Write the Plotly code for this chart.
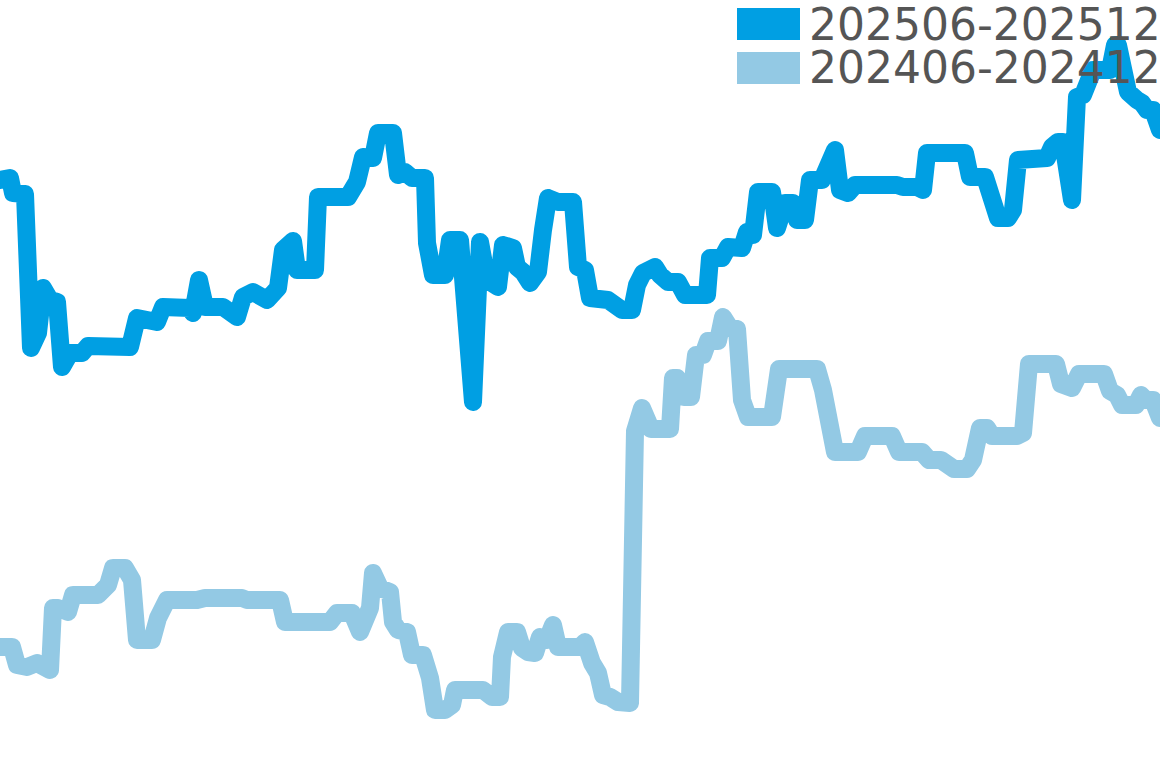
import plotly.graph_objects as go

# Day position within the half-year window (one unit = one step of the x scale)
days_2025 = [
    0.0, 1.0, 1.3, 2.5, 3.1, 3.8, 4.3, 5.0, 5.7, 6.2,
    7.0, 8.2, 8.8, 13.0, 13.7, 15.7, 16.3, 19.0, 19.3, 19.9,
    20.5, 22.3, 23.7, 24.3, 25.3, 26.7, 27.8, 28.3, 29.3, 29.7,
    31.5, 31.8, 34.8, 35.7, 36.3, 37.3, 37.8, 39.3, 39.8, 40.5,
    41.2, 42.5, 42.7, 43.3, 44.5, 45.0, 46.0, 47.3, 48.0, 48.7,
    49.8, 50.3, 51.3, 51.7, 52.3, 53.0, 53.8, 54.3, 54.8, 55.8,
    57.3, 57.8, 58.5, 59.0, 60.8, 62.2, 63.2, 63.7, 64.3, 65.5,
    66.0, 66.8, 67.8, 68.5, 70.7, 71.0, 72.2, 72.8, 74.2, 74.7,
    75.3, 75.8, 77.2, 77.7, 78.5, 79.3, 79.7, 80.5, 81.0, 82.2,
    83.5, 84.0, 84.8, 85.5, 89.7, 90.3, 91.7, 92.3, 92.7, 96.5,
    97.0, 98.5, 99.8, 100.8, 101.3, 101.8, 104.7, 105.2, 105.8, 106.3,
    107.2, 107.7, 108.3, 109.3, 111.0, 111.5, 111.8, 112.8, 113.7, 114.2,
    114.7, 115.3, 116.0,
]
values_2025 = [
    58.8, 59.0, 57.5, 57.4, 42.0, 43.5, 48.0, 46.8, 46.6, 40.1,
    41.5, 41.5, 42.2, 42.1, 45.0, 44.6, 46.1, 46.0, 45.5, 48.8,
    46.1, 46.1, 45.1, 47.1, 47.6, 46.8, 48.0, 51.8, 52.7, 49.8,
    49.8, 57.1, 57.1, 58.6, 61.1, 61.0, 63.5, 63.5, 59.3, 59.6,
    59.0, 59.0, 52.5, 49.3, 49.3, 52.8, 52.8, 36.6, 52.6, 48.8,
    48.1, 52.3, 52.0, 50.1, 49.6, 48.5, 49.6, 53.8, 57.0, 56.6,
    56.6, 50.1, 49.8, 47.0, 46.8, 45.8, 45.8, 48.3, 49.5, 50.1,
    49.3, 48.6, 48.6, 47.3, 47.3, 51.0, 51.0, 52.1, 52.0, 53.6,
    53.3, 57.6, 57.6, 54.0, 56.5, 56.5, 54.8, 54.8, 58.8, 58.8,
    61.8, 57.8, 57.5, 58.3, 58.3, 58.1, 58.1, 57.8, 61.5, 61.5,
    59.1, 59.1, 55.0, 55.0, 55.8, 60.8, 61.0, 62.1, 62.6, 62.6,
    56.8, 67.1, 67.3, 69.8, 69.8, 72.3, 72.3, 67.6, 66.8, 66.5,
    65.8, 65.8, 63.8,
]

days_2024 = [
    0.0, 1.2, 1.7, 2.7, 3.7, 5.0, 5.3, 5.8, 6.8, 7.3,
    9.8, 10.8, 11.3, 12.5, 13.2, 13.7, 15.2, 15.8, 16.7, 19.7,
    20.5, 24.2, 24.7, 28.0, 28.5, 33.0, 33.7, 35.2, 36.0, 37.0,
    37.3, 38.0, 39.0, 39.3, 39.8, 40.7, 41.2, 42.3, 43.0, 43.5,
    44.5, 45.2, 45.5, 48.3, 49.2, 50.0, 50.2, 50.8, 51.7, 52.2,
    52.8, 53.5, 54.0, 54.7, 55.3, 55.8, 58.0, 58.5, 59.2, 59.8,
    60.3, 61.0, 61.8, 63.0, 63.5, 64.2, 65.1, 67.0, 67.3, 67.7,
    68.4, 69.1, 69.6, 70.3, 70.8, 71.8, 72.3, 73.0, 73.7, 74.2,
    74.8, 77.2, 77.9, 81.7, 82.3, 83.5, 85.8, 86.5, 89.2, 89.9,
    92.2, 92.9, 94.1, 95.4, 96.7, 97.3, 98.0, 98.7, 99.2, 101.7,
    102.3, 102.9, 105.6, 106.1, 107.2, 107.9, 110.4, 111.0, 111.7, 112.2,
    113.6, 114.1, 114.6, 115.3, 116.0,
]
values_2024 = [
    12.1, 12.1, 10.3, 10.1, 10.5, 9.8, 16.0, 16.0, 15.6, 17.3,
    17.3, 18.3, 20.0, 20.0, 18.8, 12.8, 12.8, 15.0, 16.8, 16.8,
    17.0, 17.0, 16.8, 16.8, 14.6, 14.6, 15.5, 15.5, 13.6, 16.0,
    19.5, 18.0, 17.6, 14.6, 13.8, 13.6, 11.3, 11.3, 9.0, 5.8,
    5.8, 6.3, 7.8, 7.8, 7.1, 7.1, 11.1, 13.6, 13.6, 12.0,
    11.6, 11.5, 13.1, 12.8, 14.3, 12.1, 12.1, 12.6, 10.5, 9.5,
    7.3, 7.1, 6.6, 6.5, 33.7, 36.0, 33.9, 33.9, 39.0, 39.0,
    37.1, 37.1, 41.3, 41.3, 42.7, 42.7, 45.1, 44.0, 43.9, 36.8,
    35.1, 35.1, 39.9, 39.9, 37.8, 31.6, 31.6, 33.2, 33.2, 31.6,
    31.6, 30.8, 30.8, 29.9, 29.9, 30.8, 34.0, 34.0, 33.2, 33.2,
    33.5, 40.4, 40.4, 38.4, 38.0, 39.4, 39.4, 37.7, 37.3, 36.3,
    36.3, 37.3, 36.8, 36.8, 35.0,
]

series_names = ["202506-202512", "202406-202412"]
series_colors = ["#009FE3", "#93C9E4"]

W, H = 1160, 768
LW = 18

fig = go.Figure()
fig.add_trace(go.Scatter(x=days_2024, y=values_2024, mode="lines", name=series_names[1],
                         line=dict(color=series_colors[1], width=LW, simplify=False),
                         showlegend=False, hoverinfo="skip"))
fig.add_trace(go.Scatter(x=days_2025, y=values_2025, mode="lines", name=series_names[0],
                         line=dict(color=series_colors[0], width=LW, simplify=False),
                         showlegend=False, hoverinfo="skip"))

# Legend drawn as swatches + text (top right)
sw_x0, sw_x1 = 737 / W, 800 / W
rows = [(8, 40), (52, 84)]
for (t, b), name, col in zip(rows, series_names, series_colors):
    fig.add_shape(type="rect", xref="paper", yref="paper",
                  x0=sw_x0, x1=sw_x1, y0=1 - b / H, y1=1 - t / H,
                  fillcolor=col, line=dict(width=0), layer="above")
    fig.add_annotation(xref="paper", yref="paper", x=808 / W, y=1 - (t + b) / 2 / H,
                       xanchor="left", yanchor="middle", showarrow=False, text=name,
                       font=dict(family="DejaVu Sans", size=44, color="#555555"),
                       borderpad=0)

fig.update_layout(
    width=W, height=H,
    margin=dict(l=0, r=0, t=0, b=0),
    paper_bgcolor="white", plot_bgcolor="white",
    xaxis=dict(range=[0, 116], visible=False, fixedrange=True),
    yaxis=dict(range=[0, 76.8], visible=False, fixedrange=True),
    showlegend=False,
)

post = """
document.body.style.margin = '0';
document.body.style.overflow = 'hidden';
var gd = document.getElementById('{plot_id}');
function roundLines() {
  gd.querySelectorAll('.scatterlayer .js-line').forEach(function (p) {
    p.style.strokeLinejoin = 'round';
    p.style.strokeLinecap = 'round';
  });
}
roundLines();
gd.on('plotly_afterplot', roundLines);
"""

fig.write_html("out.html", config={"displayModeBar": False}, post_script=post)
